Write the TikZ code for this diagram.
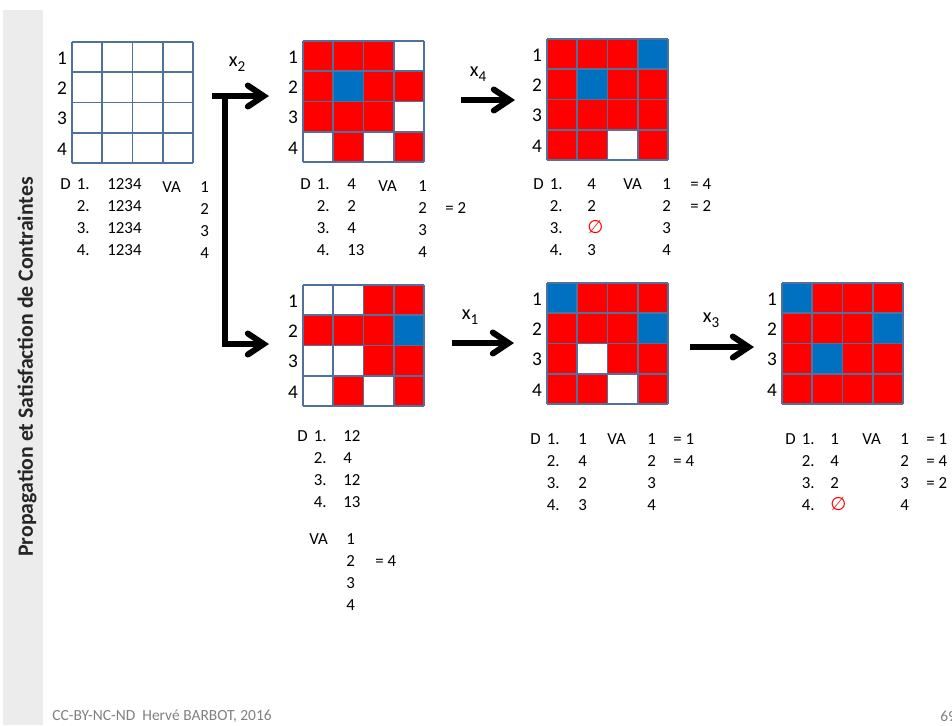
\documentclass[tikz,border=0pt]{standalone}
\usepackage{fontspec}
\setmainfont{Carlito}
\newfontfamily\symb{DejaVu Sans}
\usetikzlibrary{arrows.meta}
\definecolor{rouge}{RGB}{255,0,0}
\definecolor{bleu}{RGB}{0,112,192}
\definecolor{trait}{RGB}{79,113,156}
\definecolor{marbre}{RGB}{236,236,236}
\newcommand{\vide}{\textcolor{rouge}{\symb\fontsize{10.5}{11}\selectfont ∅}}
\newcommand{\indice}[1]{\raisebox{-0.5ex}{\fontsize{8.6}{9}\selectfont #1}}
% grille 4x4 : nom, x, y (coin haut gauche), 16 couleurs
\newcommand{\grille}[4]{%
  \foreach \c [count=\i from 0] in {#4}{
    \pgfmathtruncatemacro\col{mod(\i,4)}
    \pgfmathtruncatemacro\lig{\i/4}
    \fill[\c] ({#2+\col*30.25},{#3+\lig*30.25}) rectangle ++(30.25,30.25);
  }
  \foreach \k in {0,...,4}{
    \draw[trait,line width=1.1pt] ({#2+\k*30.25},#3) -- ++(0,121);
    \draw[trait,line width=1.1pt] (#2,{#3+\k*30.25}) -- ++(121,0);
  }
  \foreach \k in {1,...,4}
    \node[num] (#1-\k) at ({#2-10},{#3+(\k-0.5)*30.25+1}) {\k};
}
% domaines : nom, x du D, y, x des valeurs, valeurs
\newcommand{\domaine}[5]{%
  \node[txt] (#1-D) at (#2,#3) {D};
  \foreach \v [count=\i] in {#5}{
    \node[txt] (#1-i\i) at ({#2+16.5},{#3+(\i-1)*22.3}) {\i.};
    \node[txt] (#1-v\i) at (#4,{#3+(\i-1)*22.3}) {\v};
  }
}
% variables affectees : nom, x du VA, y, x des numeros, x des =, affectations
\newcommand{\affect}[6]{%
  \node[txt] (#1-VA) at (#2,#3) {VA};
  \foreach \k in {1,...,4}
    \node[txt] (#1-n\k) at (#4,{#3+(\k-1)*22.3}) {\k};
  \foreach \k/\e in {#6}
    \node[txt] (#1-e\k) at (#5,{#3+(\k-1)*22.3}) {= \e};
}

\begin{document}
\begin{tikzpicture}[x=0.02cm,y=-0.02cm,
    num/.style={font=\fontsize{11}{13}\selectfont,inner sep=0},
    txt/.style={font=\fontsize{9.6}{11}\selectfont,inner sep=0,anchor=base west},
    var/.style={font=\fontsize{11.5}{13}\selectfont,inner sep=0},
    fleche/.style={line width=3.4pt,-{Straight Barb[length=9pt,width=12pt,line cap=round]}}]
  \useasboundingbox (0,0) rectangle (952,725);
  \fill[marbre] (3,10) rectangle (43,725);
  \node[rotate=90,font=\fontsize{12.4}{14}\bfseries,text=black!85] (titre) at (27,367)
    {Propagation et Satisfaction de Contraintes};

  % les six grilles
  \grille{g0}{72}{42}{white,white,white,white,white,white,white,white,
                      white,white,white,white,white,white,white,white}
  \grille{g1}{303}{41}{rouge,rouge,rouge,white,rouge,bleu,rouge,rouge,
                       rouge,rouge,rouge,white,white,rouge,white,rouge}
  \grille{g2}{547}{39}{rouge,rouge,rouge,bleu,rouge,bleu,rouge,rouge,
                       rouge,rouge,rouge,rouge,rouge,rouge,white,rouge}
  \grille{g3}{303}{285}{white,white,rouge,rouge,rouge,rouge,rouge,bleu,
                        white,white,rouge,rouge,white,rouge,white,rouge}
  \grille{g4}{547}{283}{bleu,rouge,rouge,rouge,rouge,rouge,rouge,bleu,
                        rouge,white,rouge,rouge,rouge,rouge,white,rouge}
  \grille{g5}{782}{283}{bleu,rouge,rouge,rouge,rouge,rouge,rouge,bleu,
                        rouge,bleu,rouge,rouge,rouge,rouge,rouge,rouge}

  % domaines et variables affectees
  \domaine{d0}{60}{189}{107}{1234,1234,1234,1234}
  \affect{a0}{162}{192}{200}{0}{}
  \domaine{d1}{300}{189}{347}{4,2,4,13}
  \affect{a1}{378}{191}{418}{445}{2/2}
  \domaine{d2}{533}{189}{587}{4,2,\vide,3}
  \affect{a2}{623}{189}{662}{690}{1/4,2/2}
  \domaine{d3}{297}{441}{343}{12,4,12,13}
  \affect{a3}{309}{544}{346}{375}{2/4}
  \domaine{d4}{530}{444}{578}{1,4,2,3}
  \affect{a4}{607}{444}{647}{673}{1/1,2/4}
  \domaine{d5}{785}{444}{830}{1,4,2,\vide}
  \affect{a5}{862}{444}{900}{926}{1/1,2/4,3/2}

  % fleches
  \coordinate (x2-dep) at (212,96);
  \coordinate (x2-arr) at (269,96);
  \coordinate (coude-h) at (225,96);
  \coordinate (coude-b) at (225,344);
  \coordinate (x2b-arr) at (269,344);
  \coordinate (x4-dep) at (461,100);
  \coordinate (x4-arr) at (515,100);
  \coordinate (x1-dep) at (452,343);
  \coordinate (x1-arr) at (514,343);
  \coordinate (x3-dep) at (690,347);
  \coordinate (x3-arr) at (754,347);
  \draw[fleche] (x2-dep) -- (x2-arr);
  \draw[fleche] (coude-h) -- (coude-b) -- (x2b-arr);
  \draw[fleche] (x4-dep) -- (x4-arr);
  \draw[fleche] (x1-dep) -- (x1-arr);
  \draw[fleche] (x3-dep) -- (x3-arr);
  \node[var] (x2) at (237,64) {x\indice{2}};
  \node[var] (x4) at (478,74) {x\indice{4}};
  \node[var] (x1) at (470,317) {x\indice{1}};
  \node[var] (x3) at (711,320) {x\indice{3}};

  % pied de page
  \node[font=\fontsize{8.8}{10}\selectfont,text=black!50,anchor=west,inner sep=0] (pied) at (52,716)
    {CC-BY-NC-ND\ \ Herv\'e BARBOT, 2016};
  \node[font=\fontsize{8.8}{10}\selectfont,text=black!50,anchor=west,inner sep=0] (page) at (940,716) {69};
\end{tikzpicture}
\end{document}
